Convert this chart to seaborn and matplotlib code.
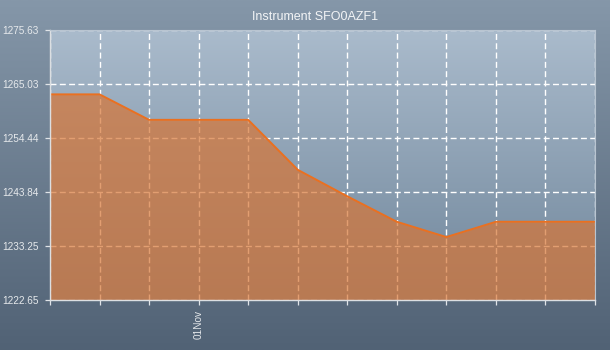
import numpy as np
import matplotlib
matplotlib.use("Agg")
import matplotlib.pyplot as plt
from matplotlib.colors import LinearSegmentedColormap
import seaborn as sns

# Price series for the instrument, one value per period
periods = list(range(12))
prices = [1263.0, 1263.0, 1258.0, 1258.0, 1258.0, 1248.2,
          1243.0, 1238.0, 1235.0, 1238.0, 1238.0, 1238.0]
period_labels = ["", "", "", "01Nov", "", "", "", "", "", "", "", ""]
y_ticks = [1222.65, 1233.25, 1243.84, 1254.44, 1265.03, 1275.63]
title = "Instrument SFO0AZF1"

sns.set_theme(style="white")
plt.rcParams["font.family"] = ["Liberation Sans", "DejaVu Sans"]

fig = plt.figure(figsize=(6.1, 3.5), dpi=100)

# Figure background: vertical steel-blue gradient
bg = fig.add_axes([0, 0, 1, 1], zorder=-5)
bg.set_axis_off()
bg_cmap = LinearSegmentedColormap.from_list("figbg", ["#516275", "#8597a9"])
bg.imshow(np.linspace(0, 1, 256).reshape(-1, 1), aspect="auto", cmap=bg_cmap,
          origin="lower", extent=[0, 1, 0, 1])
bg.set_xlim(0, 1)
bg.set_ylim(0, 1)

ax = fig.add_axes([50 / 610, 1 - 300 / 350, 545 / 610, 270 / 350])
ax.set_facecolor("none")

# Plot area gradient
pa_cmap = LinearSegmentedColormap.from_list("plotbg", ["#70869b", "#aabbcc"])
ax.imshow(np.linspace(0, 1, 256).reshape(-1, 1), aspect="auto", cmap=pa_cmap,
          origin="lower", extent=[0, 1, 0, 1], transform=ax.transAxes, zorder=0)

ax.fill_between(periods, prices, y_ticks[0], color="#d77535", alpha=0.70,
                lw=0, zorder=1)
sns.lineplot(x=periods, y=prices, ax=ax, color="#ea7020", lw=1.4, zorder=2)

ax.set_xlim(periods[0], periods[-1])
ax.set_ylim(y_ticks[0], y_ticks[-1])
ax.set_xticks(periods)
ax.set_xticklabels(period_labels, rotation=90)
ax.set_yticks(y_ticks)
ax.set_yticklabels([f"{v:.2f}" for v in y_ticks])

ax.set_axisbelow(True)
ax.grid(True, color="#ffffff", lw=1.0, linestyle=(0, (4.3, 2.4)))

ax.tick_params(axis="both", which="both", direction="out", length=3.4,
               width=0.9, color="#e0e4e8", labelcolor="#e6e9ec",
               labelsize=7.2, left=True, bottom=True)
ax.tick_params(axis="y", pad=5.0)
ax.tick_params(axis="x", pad=4.0)

for side in ("left", "bottom"):
    ax.spines[side].set_color("#dcdfe2")
    ax.spines[side].set_linewidth(1.0)
for side in ("top", "right"):
    ax.spines[side].set_color("#b9c5d1")
    ax.spines[side].set_linewidth(0.8)

ax.set_xlabel("")
ax.set_ylabel("")

fig.text(315 / 610, 1 - 17 / 350, title, ha="center", va="center",
         fontsize=9, color="#f2f4f6")

fig.savefig("out.png", dpi=100)
